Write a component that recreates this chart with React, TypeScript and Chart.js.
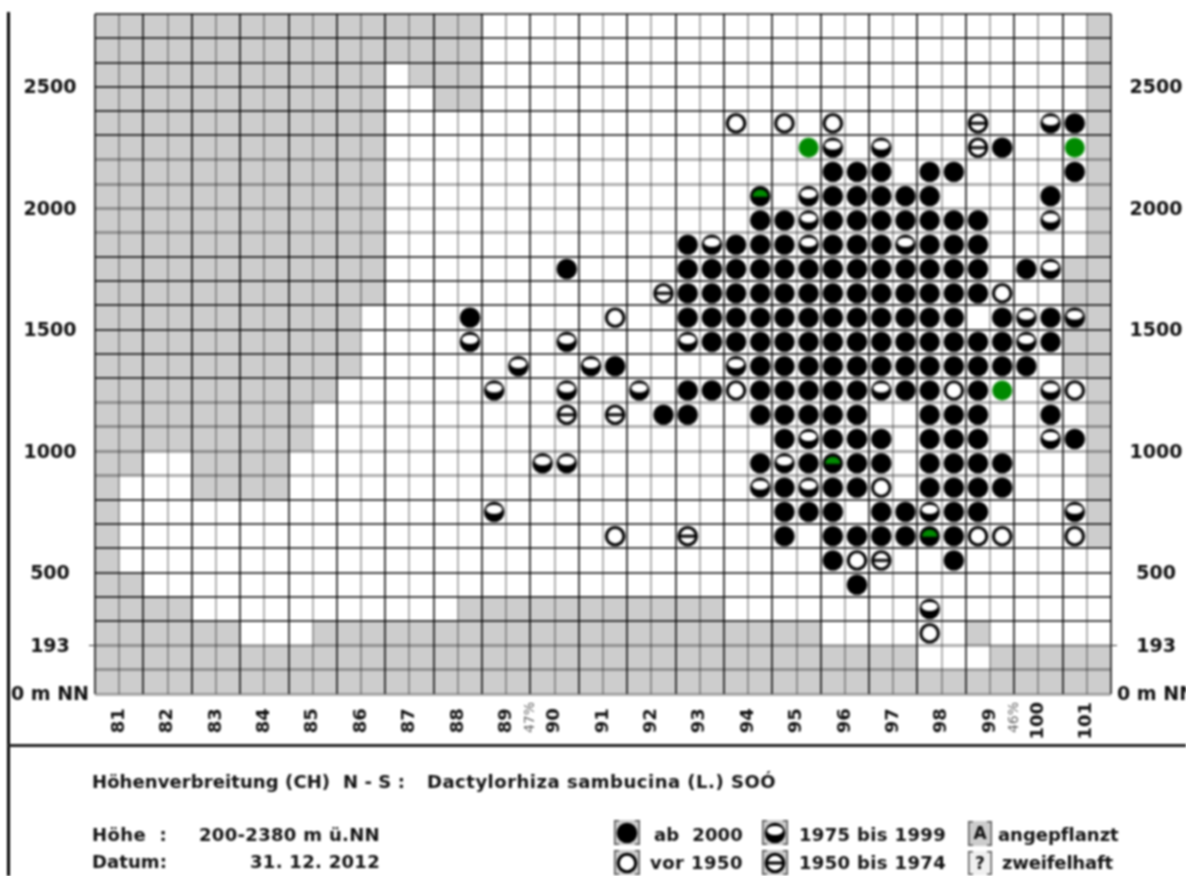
import React, { useEffect, useRef } from "react";
import { Chart, registerables } from "chart.js";

Chart.register(...registerables);

const FONT = "'DejaVu Sans'";

// Each row: [altitude band base in metres, column indices]
const ab2000: [number, number[]][] = [
  [2300, [40]],
  [2200, [37]],
  [2100, [30, 31, 32, 34, 35, 40]],
  [2000, [30, 31, 32, 33, 34, 39]],
  [1900, [27, 28, 30, 31, 32, 33, 34, 35, 36]],
  [1800, [24, 26, 27, 28, 30, 31, 32, 34, 35, 36]],
  [1700, [19, 24, 25, 26, 27, 28, 29, 30, 31, 32, 33, 34, 35, 36, 38]],
  [1600, [24, 25, 26, 27, 28, 29, 30, 31, 32, 33, 34, 35, 36]],
  [1500, [15, 24, 25, 26, 27, 28, 29, 30, 31, 32, 33, 34, 35, 37, 39]],
  [1400, [25, 26, 27, 28, 29, 30, 31, 32, 33, 34, 35, 36, 37, 39]],
  [1300, [21, 27, 28, 29, 30, 31, 32, 33, 34, 35, 36, 37, 38]],
  [1200, [24, 25, 27, 28, 29, 30, 31, 33, 34, 36]],
  [1100, [23, 24, 27, 28, 29, 30, 31, 34, 35, 36, 39]],
  [1000, [28, 30, 31, 32, 34, 35, 36, 40]],
  [900, [27, 29, 31, 32, 34, 35, 36, 37]],
  [800, [28, 30, 31, 34, 35, 36, 37]],
  [700, [28, 29, 30, 32, 33, 35, 36]],
  [600, [28, 30, 31, 32, 33, 35]],
  [500, [30, 35]],
  [400, [31]],
];
const bis1999: [number, number[]][] = [
  [2300, [39]],
  [2200, [30, 32]],
  [2000, [29]],
  [1900, [29, 39]],
  [1800, [25, 29, 33]],
  [1700, [39]],
  [1500, [38, 40]],
  [1400, [15, 19, 24, 38]],
  [1300, [17, 20, 26]],
  [1200, [16, 19, 22, 32, 39]],
  [1000, [29, 39]],
  [900, [18, 19, 28]],
  [800, [27, 29]],
  [700, [16, 34, 40]],
  [300, [34]],
];
const bis1974: [number, number[]][] = [
  [2300, [36]],
  [2200, [36]],
  [1600, [23]],
  [1100, [19, 21]],
  [600, [24]],
  [500, [32]],
];
const vor1950: [number, number[]][] = [
  [2300, [26, 28, 30]],
  [1600, [37]],
  [1500, [21]],
  [1200, [26, 35, 40]],
  [800, [32]],
  [600, [21, 36, 37, 40]],
  [500, [31]],
  [200, [34]],
];
const greenFull: [number, number[]][] = [
  [2200, [29, 40]],
  [1200, [37]],
];
const greenTop: [number, number[]][] = [
  [2000, [27]],
  [900, [30]],
  [600, [34]],
];

// Grey (outside altitude range) cells: [band base, [fromCol, toCol) runs]
const greyBands: [number, [number, number][]][] = [
  [2700, [[0, 16], [41, 42]]],
  [2600, [[0, 16], [41, 42]]],
  [2500, [[0, 12], [13, 16], [41, 42]]],
  [2400, [[0, 12], [14, 16], [41, 42]]],
  [2300, [[0, 12], [41, 42]]],
  [2200, [[0, 12], [41, 42]]],
  [2100, [[0, 12], [41, 42]]],
  [2000, [[0, 12], [41, 42]]],
  [1900, [[0, 12], [41, 42]]],
  [1800, [[0, 12], [41, 42]]],
  [1700, [[0, 12], [40, 42]]],
  [1600, [[0, 12], [40, 42]]],
  [1500, [[0, 11], [40, 42]]],
  [1400, [[0, 11], [40, 42]]],
  [1300, [[0, 11], [40, 42]]],
  [1200, [[0, 10], [41, 42]]],
  [1100, [[0, 9], [41, 42]]],
  [1000, [[0, 9], [41, 42]]],
  [900, [[0, 2], [4, 8], [41, 42]]],
  [800, [[0, 1], [4, 8], [41, 42]]],
  [700, [[0, 1], [41, 42]]],
  [600, [[0, 1], [41, 42]]],
  [500, [[0, 1]]],
  [400, [[0, 2]]],
  [300, [[0, 4], [15, 26]]],
  [200, [[0, 6], [9, 30], [36, 37]]],
  [100, [[0, 34], [37, 42]]],
  [0, [[0, 42]]],
];

const lightBands = [0, 100, 200, 900, 1000, 1100, 1200, 1900, 2000, 2100, 2200];
const altitudeLabels: Record<number, string> = { 2500: "2500", 2000: "2000", 1500: "1500", 1000: "1000", 500: "500", 200: "193", 0: "0 m NN" };
const fieldLabels: Record<number, string> = {
  1: "81 ", 3: "82 ", 5: "83 ", 7: "84 ", 9: "85 ", 11: "86 ", 13: "87 ", 15: "88 ", 17: "89 ", 18: "47%",
  19: "90 ", 21: "91 ", 23: "92 ", 25: "93 ", 27: "94 ", 29: "95 ", 31: "96 ", 33: "97 ", 35: "98 ", 37: "99 ", 38: "46%", 39: "100", 41: "101",
};
const percentTicks = [18, 38];

const titleLeft = "Höhenverbreitung (CH)  N - S :";
const titleSpecies = "Dactylorhiza sambucina (L.) SOÓ";
const infoLabels = ["Höhe  :", "Datum:"];
const infoValues = ["200-2380 m ü.NN", "31. 12. 2012"];
const legendNames = ["ab  2000", "vor 1950", "1975 bis 1999", "1950 bis 1974", "angepflanzt", "zweifelhaft"];

type Kind = "black" | "half" | "band" | "ring" | "green" | "greenTop";

function sprite(kind: Kind): HTMLCanvasElement {
  const c = document.createElement("canvas");
  c.width = 26;
  c.height = 26;
  const g = c.getContext("2d")!;
  g.translate(13, 13);
  const disc = (col: string, r: number) => {
    g.fillStyle = col;
    g.beginPath();
    g.arc(0, 0, r, 0, Math.PI * 2);
    g.fill();
  };
  if (kind === "green") disc("#008a00", 10);
  if (kind === "black") disc("#000", 10.3);
  if (kind === "half") {
    disc("#000", 10.3);
    g.fillStyle = "#fff";
    g.beginPath();
    g.ellipse(0, -2.5, 8, 4.5, 0, 0, Math.PI * 2);
    g.fill();
  }
  if (kind === "greenTop") {
    disc("#000", 10.3);
    g.fillStyle = "#008a00";
    g.beginPath();
    g.ellipse(0, 0.5, 7.5, 7, 0, Math.PI, Math.PI * 2);
    g.closePath();
    g.fill();
  }
  if (kind === "ring" || kind === "band") {
    disc("#000", 10.3);
    disc("#fff", 7.2);
  }
  if (kind === "band") {
    g.fillStyle = "#000";
    g.fillRect(-9, -1.5, 18, 3);
  }
  return c;
}

const toPoints = (rows: [number, number[]][]) =>
  rows.flatMap(([alt, cols]) => cols.map((c) => ({ x: c + 0.5, y: alt + 50 })));

export default function App() {
  const ref = useRef<HTMLCanvasElement>(null);

  useEffect(() => {
    document.body.style.margin = "0";
    const sprites: Record<Kind, HTMLCanvasElement> = {
      black: sprite("black"),
      half: sprite("half"),
      band: sprite("band"),
      ring: sprite("ring"),
      green: sprite("green"),
      greenTop: sprite("greenTop"),
    };
    const series: [string, [number, number[]][], Kind][] = [
      ["ab 2000", ab2000, "black"],
      ["1975 bis 1999", bis1999, "half"],
      ["1950 bis 1974", bis1974, "band"],
      ["vor 1950", vor1950, "ring"],
      ["grün", greenFull, "green"],
      ["grün oben", greenTop, "greenTop"],
    ];

    const greyCells = {
      id: "greyCells",
      beforeDraw(chart: any) {
        const { ctx, scales } = chart;
        const { x, y } = scales;
        ctx.save();
        ctx.fillStyle = "#cdcdcd";
        for (const [alt, runs] of greyBands) {
          const top = y.getPixelForValue(alt + 100);
          const bottom = y.getPixelForValue(alt);
          for (const [a, b] of runs) {
            const l = x.getPixelForValue(a);
            const r = x.getPixelForValue(b);
            ctx.fillRect(l, top, r - l, bottom - top);
          }
        }
        ctx.restore();
      },
    };

    const footer = {
      id: "footer",
      afterDraw(chart: any) {
        const { ctx } = chart;
        ctx.save();
        ctx.fillStyle = "#000";
        ctx.fillRect(7, 12, 3, 864);
        ctx.fillStyle = "#222";
        ctx.fillRect(8, 744, 1178, 3);
        ctx.fillStyle = "#111";
        ctx.textBaseline = "middle";
        ctx.textAlign = "left";
        ctx.font = `bold 18px ${FONT}`;
        const fit = (text: string, x: number, y: number, width: number) => {
          const natural = ctx.measureText(text).width;
          ctx.letterSpacing = `${(width - natural) / text.length}px`;
          ctx.fillText(text, x, y);
          ctx.letterSpacing = "0px";
        };
        fit(titleLeft, 92, 783, 313);
        fit(titleSpecies, 427, 783, 349);
        fit(infoLabels[0], 92, 836, 75);
        fit(infoLabels[1], 92, 863, 75);
        fit(infoValues[0], 199, 836, 181);
        fit(infoValues[1], 250, 863, 130);
        fit(legendNames[0], 654, 836, 89);
        fit(legendNames[1], 650, 864, 93);
        fit(legendNames[2], 799, 836, 147);
        fit(legendNames[3], 799, 864, 147);
        fit(legendNames[4], 998, 836, 120);
        fit(legendNames[5], 1002, 864, 111);

        const box = (x: number, y: number, w: number, h: number, fill: string) => {
          ctx.fillStyle = fill;
          ctx.fillRect(x, y, w, h);
          ctx.fillStyle = "#555";
          ctx.fillRect(x, y, 1.5, h);
          ctx.fillRect(x + w - 1.5, y, 1.5, h);
          ctx.fillRect(x, y, 5, 1.5);
          ctx.fillRect(x + w - 5, y, 5, 1.5);
          ctx.fillRect(x, y + h - 1.5, 5, 1.5);
          ctx.fillRect(x + w - 5, y + h - 1.5, 5, 1.5);
        };
        const marks: [number, number, Kind][] = [
          [614, 820, "black"],
          [614, 850, "ring"],
          [762, 820, "half"],
          [762, 850, "band"],
        ];
        for (const [x, y, k] of marks) {
          box(x, y, 26, 25, "#cdcdcd");
          ctx.drawImage(sprites[k], x, y);
        }
        box(968, 821, 24, 25, "#cdcdcd");
        box(968, 851, 24, 24, "#f0f0f0");
        ctx.fillStyle = "#111";
        ctx.textAlign = "center";
        ctx.font = `bold 17px ${FONT}`;
        ctx.fillText("A", 980, 835);
        ctx.fillText("?", 980, 865);
        ctx.restore();
      },
    };

    const chart = new Chart(ref.current!, {
      type: "scatter",
      data: {
        datasets: series.map(([label, rows, kind]) => ({
          label,
          data: toPoints(rows),
          pointStyle: sprites[kind] as any,
          pointRadius: 10,
          pointHoverRadius: 10,
        })),
      },
      options: {
        animation: false,
        responsive: false,
        layout: { padding: { top: 14, bottom: 132, left: 0, right: 0 } },
        plugins: { legend: { display: false }, tooltip: { enabled: false }, title: { display: false } },
        scales: {
          x: {
            type: "linear",
            min: 0,
            max: 42,
            afterFit: (s: any) => { s.height = 50; },
            afterBuildTicks: (s: any) => { s.ticks = Array.from({ length: 43 }, (_, i) => ({ value: i })); },
            border: { display: false },
            grid: {
              drawTicks: false,
              color: (c: any) => (c.tick.value % 2 === 0 ? "rgba(0,0,0,0.72)" : "rgba(0,0,0,0.3)"),
              lineWidth: 2,
            },
            ticks: {
              autoSkip: false,
              minRotation: 90,
              maxRotation: 90,
              padding: 8,
              color: (c: any) => (percentTicks.includes(c.tick.value) ? "#666" : "#111"),
              font: (c: any) =>
                percentTicks.includes(c.tick?.value)
                  ? { family: FONT, size: 14, weight: "normal" }
                  : { family: FONT, size: 18, weight: "bold" },
              callback: (v: any) => fieldLabels[v] ?? "",
            },
          },
          y: {
            type: "linear",
            position: "left",
            min: 0,
            max: 2800,
            afterFit: (s: any) => { s.width = 95; },
            border: { display: false },
            grid: {
              color: (c: any) => (lightBands.includes(c.tick.value) ? "rgba(0,0,0,0.3)" : "rgba(0,0,0,0.72)"),
              lineWidth: (c: any) => (lightBands.includes(c.tick.value) ? 3 : 2),
              tickColor: (c: any) => (c.tick.value === 200 ? "#333" : "transparent"),
              tickLength: 6,
              tickWidth: 1,
            },
            ticks: {
              stepSize: 100,
              autoSkip: false,
              padding: 0,
              labelOffset: 1.5,
              crossAlign: "center",
              color: "#111",
              font: { family: FONT, size: 19, weight: "bold" },
              callback: (v: any) => altitudeLabels[v] ?? "",
            },
          },
          y2: {
            type: "linear",
            position: "right",
            axis: "y",
            min: 0,
            max: 2800,
            afterFit: (s: any) => { s.width = 75; },
            border: { display: false },
            grid: {
              drawOnChartArea: false,
              tickColor: (c: any) => (c.tick.value === 200 ? "#333" : "transparent"),
              tickLength: 6,
              tickWidth: 1,
            },
            ticks: {
              stepSize: 100,
              autoSkip: false,
              padding: 0,
              labelOffset: 1.5,
              crossAlign: "center",
              color: "#111",
              font: { family: FONT, size: 19, weight: "bold" },
              callback: (v: any) => altitudeLabels[v] ?? "",
            },
          },
        },
      } as any,
      plugins: [greyCells, footer],
    });
    return () => chart.destroy();
  }, []);

  return (
    <canvas
      ref={ref}
      width={1186}
      height={876}
      style={{ display: "block", width: 1186, height: 876, filter: "blur(0.8px)" }}
    />
  );
}
